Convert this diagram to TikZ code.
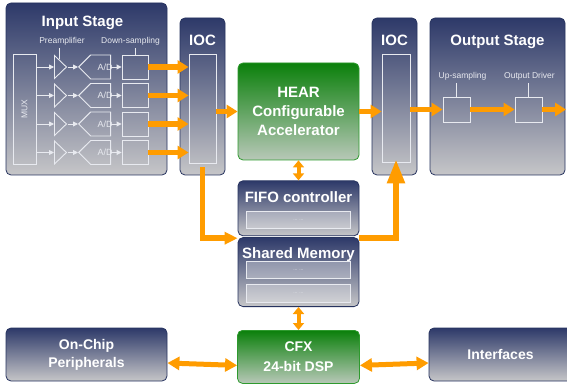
\documentclass[tikz,border=0pt]{standalone}
\usepackage{fontspec}
\setmainfont{Liberation Sans}
\setsansfont{Liberation Sans}
\definecolor{Navy}{HTML}{2D3969}
\definecolor{Mist}{HTML}{C6C6C8}
\definecolor{Ink}{HTML}{27335F}
\definecolor{Leaf}{HTML}{0B800B}
\definecolor{Sage}{HTML}{B8C8B8}
\definecolor{Moss}{HTML}{2E9A2E}
\definecolor{Amber}{HTML}{FF9C00}
\definecolor{Pale}{HTML}{E8EAF0}
\usepackage{tikz}
\usetikzlibrary{arrows.meta,positioning,shapes.geometric,shapes.symbols}

\begin{document}
\begin{tikzpicture}[x=1pt,y=-1pt,
  font=\sffamily,
  stage/.style={draw=Ink,line width=.8pt,rounded corners=5pt,top color=Navy,bottom color=Mist,
    inner sep=0pt,text=white,align=center,font=\sffamily\bfseries\fontsize{14}{18}\selectfont},
  engine/.style={draw=Moss,line width=.8pt,rounded corners=5pt,top color=Leaf,bottom color=Sage,
    inner sep=0pt,text=white,align=center,font=\sffamily\bfseries\fontsize{15}{18.7}\selectfont},
  title/.style={anchor=base,text=white,inner sep=0pt,font=\sffamily\bfseries\fontsize{15}{18}\selectfont},
  note/.style={anchor=base,text=Pale,inner sep=0pt,font=\sffamily\fontsize{8.5}{10}\selectfont},
  frame/.style={draw=Pale,line width=.9pt,inner sep=0pt},
  slot/.style={draw=Pale,line width=.9pt,fill=white,fill opacity=.3,text opacity=1,
    minimum width=104pt,minimum height=17pt,inner sep=0pt,text=Pale,font=\sffamily\fontsize{5}{6}\selectfont},
  amp/.style={isosceles triangle,isosceles triangle stretches,shape border rotate=0,
    minimum width=23pt,minimum height=12pt,draw=Pale,line width=.9pt,inner sep=0pt},
  adc/.style={signal,signal to=west,minimum width=32pt,minimum height=24pt,draw=Pale,
    line width=.9pt,inner sep=0pt,text=Pale,font=\sffamily\fontsize{9}{10}\selectfont},
  tick/.style={draw=Pale,line width=.9pt},
  wire/.style={draw=Pale,line width=.9pt,-{Triangle[length=5pt,width=5pt]}},
  flow/.style={draw=Amber,line width=5.5pt,-{Triangle[length=11pt,width=13pt]}},
  link/.style={draw=Amber,line width=5pt,{Triangle[length=12pt,width=13pt]}-{Triangle[length=12pt,width=13pt]}},
  hop/.style={draw=Amber,line width=4pt,{Triangle[length=7pt,width=11pt]}-{Triangle[length=7pt,width=11pt]}}
]
\fill[white] (0,0) rectangle (567,387);
\useasboundingbox (0,0) rectangle (567,387);

% main blocks
\node[stage,minimum width=161pt,minimum height=172pt] (inst) at (86.5,89) {};
\node[stage,minimum width=45pt,minimum height=157pt] (ioca) at (202.5,96.5) {};
\node[stage,minimum width=45pt,minimum height=157pt] (iocb) at (394.5,96.5) {};
\node[stage,minimum width=135pt,minimum height=157pt] (outst) at (497.5,96.5) {};
\node[engine,minimum width=121pt,minimum height=97pt] (hear) at (298.5,111.5) {HEAR\\Configurable\\Accelerator};
\node[stage,minimum width=121pt,minimum height=55pt,below=20pt of hear] (fifo) {};
\node[stage,minimum width=121pt,minimum height=69pt,below=1pt of fifo] (shmem) {};
\node[engine,minimum width=122pt,minimum height=53pt,below=23pt of shmem,
  font=\sffamily\bfseries\fontsize{14}{20}\selectfont] (cfx) {CFX\\24-bit DSP};
\node[stage,minimum width=161pt,minimum height=53pt] (periph) at (86.5,354.5) {On-Chip\\Peripherals};
\node[stage,minimum width=143pt,minimum height=53pt] (iface) at (500.5,354.5) {Interfaces};

\node[title,xshift=-4pt] (instT) at ([yshift=-24pt]inst.north) {Input Stage};
\node[title] (iocaT) at ([yshift=-28pt]ioca.north) {IOC};
\node[title] (iocbT) at ([yshift=-28pt]iocb.north) {IOC};
\node[title] (outT) at ([yshift=-28pt]outst.north) {Output Stage};
\node[title] (fifoT) at ([yshift=-22pt]fifo.north) {FIFO controller};
\node[title] (shmemT) at ([yshift=-21pt]shmem.north) {Shared Memory};

% IOC channels
\node[frame,minimum width=27pt,minimum height=109pt] (iocain) at (202.5,108.5) {};
\node[frame,minimum width=28pt,minimum height=108pt] (iocbin) at (396,108) {};

% input chain
\node[frame,minimum width=23pt,minimum height=110pt] (mux) at (24.5,109) {};
\node[rotate=90,text=Pale,inner sep=0pt,font=\sffamily\fontsize{8.5}{10}\selectfont] (muxT) at (mux) {MUX};
\node[note] (preL) at (62,43.5) {Preamplifier};
\node[note] (dsL) at (130.5,43.5) {Down-sampling};
\foreach \i/\y in {1/67,2/95.5,3/124,4/152.5}{
  \node[amp,anchor=lower side] (amp\i) at (54,\y) {};
  \node[adc,anchor=west] (adc\i) at (78,\y) {\hspace*{4.5pt}A/D\hspace*{-4.5pt}};
  \node[frame,minimum width=26pt,minimum height=24pt] (ds\i) at (135,\y) {};
  \draw[wire] (mux.east |- amp\i.lower side) -- (amp\i.lower side);
  \draw[wire] (amp\i.apex) -- (adc\i.west);
  \draw[wire] (adc\i.east) -- (ds\i.west);
  \draw[flow] (ds\i.east) -- (ds\i.east -| iocain.west);
}
\draw[tick] (59,48) -- (59,59);
\draw[tick] (ds1.north) -- ++(0,-7);

% output chain
\node[note] (upL) at (462.5,79) {Up-sampling};
\node[note] (drvL) at (529.5,79) {Output Driver};
\node[frame,minimum width=27pt,minimum height=25pt] (up) at (456.5,109.5) {};
\node[frame,minimum width=27pt,minimum height=25pt] (drv) at (528.5,109.5) {};
\draw[tick] (up.north) -- ++(0,-14);
\draw[tick] (drv.north) -- ++(0,-14);
\coordinate (outend) at (566,109.5);

% memory slots
\node[slot,above=7pt] (fifoslot) at (fifo.south) {... ...};
\node[slot,minimum height=18pt,above=4pt] (memslotb) at (shmem.south) {... ...};
\node[slot,above=5pt of memslotb] (memslota) {... ...};

% data paths
\draw[flow] (iocain.east |- hear.west) -- (hear.west);
\draw[flow] (hear.east) -- (hear.east -| iocbin.west);
\draw[flow] (iocbin.east |- up.west) -- (up.west);
\draw[flow] (up.east) -- (drv.west);
\draw[flow] (drv.east) -- (outend);
\draw[hop] (hear.south) -- (fifo.north);
\draw[flow,-{Triangle[length=13pt,width=12pt]}] ([yshift=-4pt]iocain.south) |- ([yshift=-1pt]shmem.north west);
\draw[flow,-{Triangle[length=24pt,width=17pt]},shorten >=-3pt] ([yshift=-1pt]shmem.north east) -| (iocbin.south);
\draw[hop] (shmem.south) -- (cfx.north);
\draw[link] ([yshift=-8.5pt]periph.east) -- ([yshift=-8.5pt]cfx.west);
\draw[link] ([yshift=-8.5pt]cfx.east) -- ([yshift=-8.5pt]iface.west);
\end{tikzpicture}
\end{document}
